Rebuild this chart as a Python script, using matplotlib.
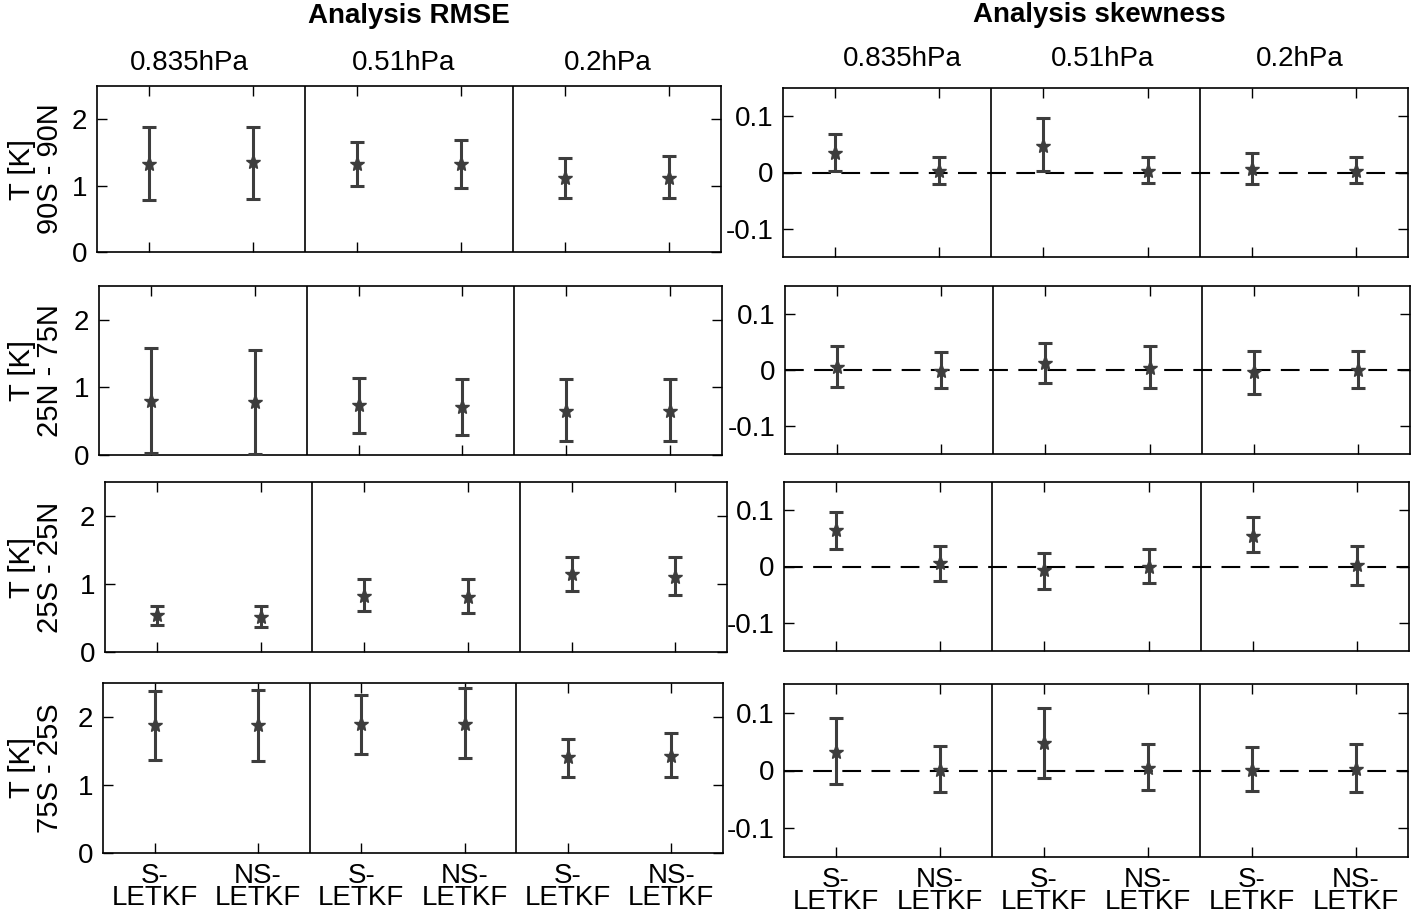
import matplotlib
matplotlib.use('Agg')
import matplotlib.pyplot as plt
import numpy as np

plt.rcParams['font.family'] = ['Liberation Sans', 'DejaVu Sans']

# ---------------- data ----------------
regions = ['90S - 90N', '25N - 75N', '25S - 25N', '75S - 25S']
levels = ['0.835hPa', '0.51hPa', '0.2hPa']
methods = ['S-\nLETKF', 'NS-\nLETKF']
positions = [1, 2, 3, 4, 5, 6]   # S/NS for each of the 3 levels

rmse_mean = [
    [1.32, 1.35, 1.32, 1.32, 1.12, 1.12],
    [0.80, 0.78, 0.74, 0.71, 0.65, 0.645],
    [0.54, 0.51, 0.82, 0.81, 1.15, 1.11],
    [1.88, 1.88, 1.90, 1.90, 1.41, 1.43],
]
rmse_low = [
    [0.78, 0.80, 0.99, 0.96, 0.82, 0.82],
    [0.03, 0.01, 0.33, 0.30, 0.205, 0.205],
    [0.40, 0.375, 0.60, 0.57, 0.89, 0.84],
    [1.37, 1.35, 1.45, 1.39, 1.12, 1.12],
]
rmse_high = [
    [1.875, 1.89, 1.65, 1.69, 1.42, 1.45],
    [1.585, 1.56, 1.14, 1.12, 1.12, 1.12],
    [0.67, 0.67, 1.07, 1.07, 1.40, 1.40],
    [2.38, 2.40, 2.33, 2.42, 1.68, 1.76],
]

skew_mean = [
    [0.035, 0.003, 0.047, 0.003, 0.007, 0.003],
    [0.006, -0.002, 0.012, 0.003, -0.004, 0.0],
    [0.064, 0.006, -0.007, 0.0, 0.055, 0.002],
    [0.032, 0.001, 0.048, 0.005, 0.001, 0.003],
]
skew_low = [
    [0.002, -0.021, 0.002, -0.019, -0.021, -0.018],
    [-0.030, -0.032, -0.024, -0.033, -0.043, -0.032],
    [0.031, -0.026, -0.040, -0.029, 0.026, -0.032],
    [-0.023, -0.038, -0.013, -0.034, -0.036, -0.038],
]
skew_high = [
    [0.068, 0.028, 0.097, 0.028, 0.034, 0.028],
    [0.042, 0.032, 0.048, 0.042, 0.034, 0.034],
    [0.096, 0.037, 0.024, 0.031, 0.088, 0.037],
    [0.091, 0.043, 0.108, 0.046, 0.040, 0.046],
]

rmse_ticks = [0, 1, 2]
skew_ticks = [-0.1, 0, 0.1]
skew_ticklabels = ['-0.1', '0', '0.1']

# ---------------- layout (pixels) ----------------
W, H = 1417, 918
fig = plt.figure(figsize=(W / 100, H / 100), dpi=100)

left_boxes = [(97, 86, 721, 252), (99, 286, 722, 455), (105, 482, 727, 652), (103, 683, 723, 853)]
right_boxes = [(783, 88, 1408, 257), (785, 286, 1410, 454), (784, 482, 1409, 651), (784, 684, 1408, 857)]
left_title_x = [189, 404, 608]
right_title_x = [902, 1103, 1300]

def px_axes(box):
    x0, y0, x1, y1 = box
    return fig.add_axes([x0 / W, 1 - y1 / H, (x1 - x0) / W, (y1 - y0) / H])

ecol = '#3d3d3d'
FS = 20

def style(ax, last):
    ax.set_xlim(0.5, 6.5)
    ax.set_xticks(positions)
    if last:
        ax.set_xticklabels(methods * 3, fontsize=FS, linespacing=0.8)
    else:
        ax.set_xticklabels([])
    ax.tick_params(direction='in', top=True, right=True, length=7, width=1,
                   labelsize=FS, pad=7)
    for s in ax.spines.values():
        s.set_linewidth(1.2)
    for xv in (2.5, 4.5):
        ax.axvline(xv, color='black', lw=1.2)

for i in range(4):
    # RMSE
    ax = px_axes(left_boxes[i])
    m = np.array(rmse_mean[i]); lo = np.array(rmse_low[i]); hi = np.array(rmse_high[i])
    ax.errorbar(positions, m, yerr=[m - lo, hi - m], fmt='*', color=ecol, ecolor=ecol,
                elinewidth=2.2, capsize=5, capthick=2.2, markersize=11, zorder=3)
    ax.set_ylim(0, 2.5)
    ax.set_yticks(rmse_ticks)
    style(ax, i == 3)
    x0, y0, x1, y1 = left_boxes[i]
    fig.text(36 / W, 1 - (y0 + y1) / 2 / H, 'T [K]\n' + regions[i], rotation=90,
             ha='center', va='center', multialignment='center', fontsize=21, linespacing=1.0)

    # skewness
    ax = px_axes(right_boxes[i])
    m = np.array(skew_mean[i]); lo = np.array(skew_low[i]); hi = np.array(skew_high[i])
    ax.axhline(0, color='black', lw=1.5, ls=(0, (9, 5)), zorder=1)
    ax.errorbar(positions, m, yerr=[m - lo, hi - m], fmt='*', color=ecol, ecolor=ecol,
                elinewidth=2.2, capsize=5, capthick=2.2, markersize=11, zorder=3)
    ax.set_ylim(-0.15, 0.15)
    ax.set_yticks(skew_ticks)
    ax.set_yticklabels(skew_ticklabels)
    style(ax, i == 3)

for k, lev in enumerate(levels):
    fig.text(left_title_x[k] / W, 1 - 63 / H, lev, ha='center', va='center', fontsize=FS)
    fig.text(right_title_x[k] / W, 1 - 59 / H, lev, ha='center', va='center', fontsize=FS)

fig.text(409 / W, 1 - 16 / H, 'Analysis RMSE', ha='center', va='center',
         fontsize=FS, fontweight='bold')
fig.text(1099 / W, 1 - 15 / H, 'Analysis skewness', ha='center', va='center',
         fontsize=FS, fontweight='bold')

fig.savefig('out.png', dpi=100)
